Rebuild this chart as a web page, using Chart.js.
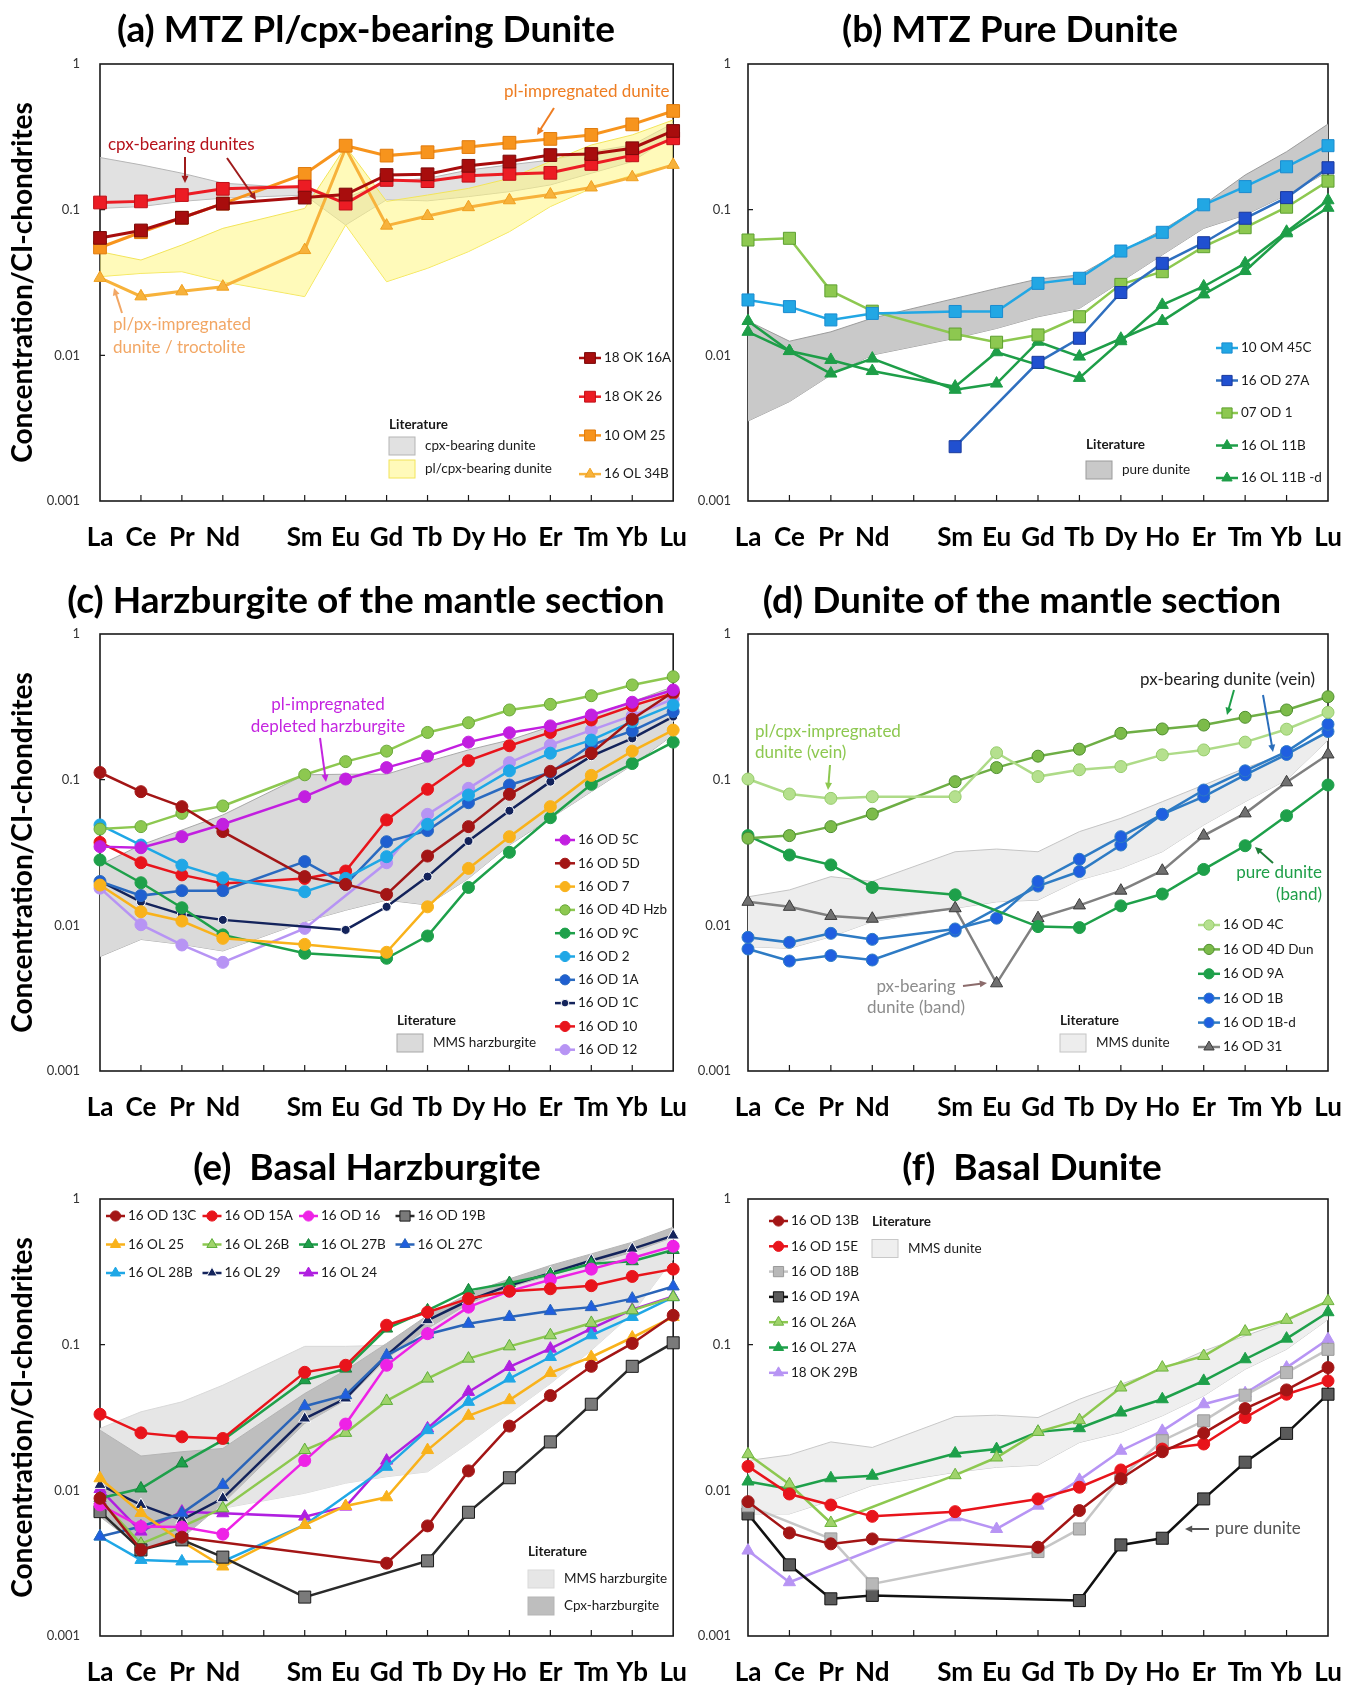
<!DOCTYPE html>
<html>
<head>
<meta charset="utf-8">
<script src="https://cdn.jsdelivr.net/npm/chart.js@4.4.1/dist/chart.umd.min.js"></script>
<style>
  html, body { margin: 0; padding: 0; background: #fff; }
  #page { position: relative; width: 1359px; height: 1688px; overflow: hidden; }
  canvas { position: absolute; }
  .ptitle { position: absolute; transform: translate(-50%, -50%); font: bold 37px Lato, sans-serif; white-space: pre; color: #000; }
</style>
</head>
<body>
<div id="page">
  <canvas id="pa" width="700" height="553" style="left:0;top:0"></canvas>
  <canvas id="pb" width="669" height="553" style="left:690px;top:0"></canvas>
  <canvas id="pc" width="700" height="553" style="left:0;top:570px"></canvas>
  <canvas id="pd" width="669" height="553" style="left:690px;top:570px"></canvas>
  <canvas id="pe" width="700" height="553" style="left:0;top:1135px"></canvas>
  <canvas id="pf" width="669" height="553" style="left:690px;top:1135px"></canvas>

  <div class="ptitle" style="left:366px;top:27px">(a) MTZ Pl/cpx-bearing Dunite</div>
  <div class="ptitle" style="left:1010px;top:27px">(b) MTZ Pure Dunite</div>
  <div class="ptitle" style="left:366px;top:598px">(c) Harzburgite of the mantle section</div>
  <div class="ptitle" style="left:1022px;top:598px">(d) Dunite of the mantle section</div>
  <div class="ptitle" style="left:367px;top:1165px">(e)  Basal Harzburgite</div>
  <div class="ptitle" style="left:1032px;top:1165px">(f)  Basal Dunite</div>
</div>

<script>
// REE order, Pm left blank (no data)
const ree = ['La', 'Ce', 'Pr', 'Nd', '', 'Sm', 'Eu', 'Gd', 'Tb', 'Dy', 'Ho', 'Er', 'Tm', 'Yb', 'Lu'];
const yTicks = [0.001, 0.01, 0.1, 1];
const yTitle = 'Concentration/CI-chondrites';

// (a) MTZ Pl/cpx-bearing dunite
const a_ok16a = [0.064, 0.072, 0.088, 0.110, null, 0.121, 0.127, 0.173, 0.175, 0.200, 0.214, 0.237, 0.241, 0.264, 0.347];
const a_ok26  = [0.112, 0.114, 0.126, 0.139, null, 0.144, 0.110, 0.160, 0.157, 0.171, 0.176, 0.179, 0.206, 0.236, 0.309];
const a_om25  = [0.055, 0.070, 0.088, 0.110, null, 0.176, 0.275, 0.235, 0.248, 0.269, 0.288, 0.306, 0.326, 0.385, 0.476];
const a_ol34b = [0.034, 0.0254, 0.0275, 0.0296, null, 0.0528, 0.264, 0.0777, 0.0905, 0.104, 0.116, 0.127, 0.142, 0.167, 0.203];
const a_cpxHi = [0.228, 0.203, 0.178, 0.152, null, 0.140, 0.120, 0.156, 0.164, 0.187, 0.203, 0.219, 0.250, 0.278, 0.392];
const a_cpxLo = [0.102, 0.105, 0.114, 0.120, null, 0.126, 0.0785, 0.117, 0.115, 0.123, 0.133, 0.148, 0.178, 0.214, 0.326];
const a_plHi  = [0.0515, 0.0451, 0.0572, 0.0744, null, 0.102, 0.271, 0.114, 0.126, 0.140, 0.164, 0.214, 0.278, 0.326, 0.413];
const a_plLo  = [0.0347, 0.0365, 0.0375, 0.032, null, 0.0253, 0.0785, 0.032, 0.0396, 0.0515, 0.0706, 0.105, 0.140, 0.173, 0.203];

// (b) MTZ pure dunite
const b_om45c  = [0.024, 0.0216, 0.0175, 0.0194, null, 0.020, 0.020, 0.0312, 0.0338, 0.052, 0.0699, 0.108, 0.144, 0.197, 0.275];
const b_od27a  = [null, null, null, null, null, 0.00236, null, 0.00895, 0.0131, 0.027, 0.0428, 0.0593, 0.0873, 0.121, 0.194];
const b_od1    = [0.0619, 0.0636, 0.0277, 0.0201, null, 0.014, 0.0123, 0.0138, 0.0184, 0.0307, 0.0375, 0.0557, 0.0752, 0.104, 0.157];
const b_ol11b  = [0.0172, 0.0107, 0.0093, 0.0078, null, 0.0061, 0.0105, 0.0086, 0.0070, 0.0125, 0.0222, 0.0297, 0.0428, 0.0705, 0.116];
const b_ol11bd = [0.0145, 0.0107, 0.0075, 0.0095, null, 0.0058, 0.0064, 0.0124, 0.0098, 0.0130, 0.0172, 0.0262, 0.0379, 0.0688, 0.103];
const b_pureHi = [0.0172, 0.0125, 0.0145, 0.0180, null, 0.0246, 0.0288, 0.0334, 0.0356, 0.0515, 0.0725, 0.108, 0.173, 0.250, 0.387];
const b_pureLo = [0.00354, 0.00481, 0.00733, 0.01005, null, 0.0131, 0.0153, 0.0184, 0.021, 0.032, 0.0489, 0.0744, 0.0919, 0.126, 0.182];

// (c) harzburgite of the mantle section
const c_od5c  = [0.0347, 0.0341, 0.0406, 0.0494, null, 0.0764, 0.101, 0.121, 0.145, 0.181, 0.210, 0.234, 0.278, 0.340, 0.413];
const c_od5d  = [0.112, 0.0827, 0.0653, 0.044, null, 0.0216, 0.0191, 0.0163, 0.0299, 0.0476, 0.0793, 0.114, 0.152, 0.260, 0.400];
const c_od7   = [0.0189, 0.0124, 0.0107, 0.00814, null, 0.0074, null, 0.00653, 0.0134, 0.0246, 0.0406, 0.0653, 0.107, 0.157, 0.219];
const c_od4d  = [0.0458, 0.0476, 0.0587, 0.066, null, 0.108, 0.133, 0.157, 0.211, 0.246, 0.301, 0.329, 0.377, 0.447, 0.509];
const c_od9c  = [0.0281, 0.0196, 0.0132, 0.0086, null, 0.00643, null, 0.00594, 0.00845, 0.0182, 0.0317, 0.0548, 0.0929, 0.129, 0.181];
const c_od2   = [0.0489, 0.0356, 0.0259, 0.0212, null, 0.0170, 0.021, 0.0296, 0.0494, 0.0785, 0.115, 0.152, 0.187, 0.250, 0.326];
const c_od1a  = [0.020, 0.016, 0.0173, 0.0173, null, 0.0274, 0.0191, 0.0375, 0.0447, 0.0695, 0.0919, 0.112, 0.173, 0.216, 0.293];
const c_od1c  = [0.0201, 0.0145, 0.0119, 0.0109, null, null, 0.0093, 0.0134, 0.0216, 0.0379, 0.0612, 0.0969, 0.145, 0.192, 0.271];
const c_od10  = [0.0371, 0.0269, 0.0222, 0.0194, null, 0.021, 0.0236, 0.0529, 0.0859, 0.135, 0.171, 0.211, 0.257, 0.321, 0.392];
const c_od12  = [0.018, 0.0101, 0.00733, 0.00557, null, 0.00953, null, 0.0269, 0.0578, 0.0872, 0.131, 0.173, 0.219, 0.275, 0.358];
const c_mmsHi = [0.026, 0.0356, 0.0451, 0.0572, null, 0.108, 0.109, 0.109, 0.133, 0.160, 0.187, 0.231, 0.278, 0.343, 0.435];
const c_mmsLo = [0.0061, 0.0080, 0.0074, 0.00667, null, 0.0106, 0.0127, 0.0149, 0.0138, 0.021, 0.0356, 0.0543, 0.0827, 0.126, 0.203];

// (d) dunite of the mantle section
const d_od4c  = [0.101, 0.0797, 0.0744, 0.0764, null, 0.0764, 0.153, 0.105, 0.117, 0.123, 0.148, 0.160, 0.181, 0.222, 0.290];
const d_od4d  = [0.0396, 0.0413, 0.0476, 0.0581, null, 0.0969, 0.121, 0.145, 0.162, 0.208, 0.223, 0.237, 0.268, 0.301, 0.371];
const d_od9a  = [0.0413, 0.0304, 0.026, 0.0182, null, 0.0162, null, 0.0098, 0.00965, 0.0136, 0.0164, 0.0242, 0.0352, 0.0566, 0.0919];
const d_od1b  = [0.00827, 0.00764, 0.00881, 0.00801, null, 0.00944, 0.0112, 0.020, 0.0284, 0.0406, 0.0578, 0.0849, 0.115, 0.156, 0.240];
const d_od1bd = [0.00688, 0.00569, 0.0062, 0.00578, null, 0.00914, null, 0.0186, 0.0234, 0.0356, 0.0578, 0.0764, 0.108, 0.149, 0.214];
const d_od31  = [0.0145, 0.0134, 0.0116, 0.0111, null, 0.0131, 0.0040, 0.0112, 0.0137, 0.0173, 0.0237, 0.0413, 0.0587, 0.0959, 0.149];
const d_mmsHi = [0.0157, 0.0175, 0.0216, 0.020, null, 0.032, 0.0334, 0.032, 0.044, 0.0543, 0.0706, 0.0919, 0.120, 0.152, 0.208];
const d_mmsLo = [0.00714, 0.00695, 0.00836, 0.0106, null, 0.0131, 0.0145, 0.0149, 0.0205, 0.0246, 0.032, 0.0489, 0.0706, 0.0995, 0.187];

// (e) basal harzburgite
const e_od13c = [0.00882, 0.0039, 0.00477, null, null, null, null, 0.00316, 0.0057, 0.0136, 0.0276, 0.0447, 0.071, 0.102, 0.159];
const e_od15a = [0.0333, 0.0248, 0.0233, 0.0227, null, 0.0646, 0.0722, 0.136, 0.167, 0.207, 0.233, 0.242, 0.254, 0.294, 0.330];
const e_od16  = [0.00794, 0.00564, 0.0056, 0.0050, null, 0.016, 0.0285, 0.0722, 0.119, 0.181, 0.233, 0.279, 0.330, 0.394, 0.474];
const e_od19b = [0.00714, 0.0039, 0.00457, 0.00348, null, 0.00185, null, null, 0.00328, 0.00707, 0.0122, 0.0215, 0.039, 0.071, 0.103];
const e_ol25  = [0.0121, 0.0070, 0.00445, 0.0030, null, 0.00579, 0.00781, 0.00896, 0.0189, 0.0325, 0.0416, 0.064, 0.0823, 0.112, 0.155];
const e_ol26b = [0.00859, 0.00429, 0.00564, 0.00753, null, 0.0189, 0.0248, 0.0411, 0.0585, 0.0802, 0.0974, 0.116, 0.141, 0.172, 0.212];
const e_ol27b = [0.00882, 0.0103, 0.0153, 0.0221, null, 0.057, 0.0685, 0.129, 0.172, 0.236, 0.265, 0.303, 0.359, 0.374, 0.447];
const e_ol27c = [0.00482, 0.00564, 0.00696, 0.0109, null, 0.0378, 0.045, 0.0845, 0.118, 0.139, 0.155, 0.170, 0.181, 0.207, 0.251];
const e_ol28b = [0.00482, 0.00333, 0.00325, 0.00325, null, 0.00579, null, 0.0145, 0.0259, 0.0405, 0.0585, 0.0823, 0.116, 0.155, 0.212];
const e_ol29  = [0.0109, 0.00794, 0.00626, 0.00882, null, 0.0311, 0.0427, 0.0845, 0.147, 0.201, 0.255, 0.310, 0.378, 0.455, 0.561];
const e_ol24  = [0.0102, 0.00521, 0.00714, 0.00696, null, 0.0066, 0.00773, 0.016, 0.0266, 0.0474, 0.0703, 0.0939, 0.129, 0.174, 0.214];
const e_mmsHi = [0.0266, 0.0346, 0.0405, 0.0527, null, 0.0974, 0.0974, 0.099, 0.155, 0.207, 0.255, 0.306, 0.368, 0.467, 0.623];
const e_mmsLo = [0.0066, 0.00564, 0.00626, 0.00753, null, 0.00954, 0.0112, 0.0124, 0.0134, 0.021, 0.0337, 0.054, 0.0914, 0.163, 0.388];
const e_cpxHi = [0.0259, 0.0172, 0.0184, 0.0194, null, 0.0462, 0.0668, 0.102, 0.159, 0.224, 0.283, 0.350, 0.420, 0.505, 0.640];
const e_cpxLo = [0.0066, 0.00401, 0.00469, 0.00814, null, 0.0288, 0.0416, 0.0802, 0.129, 0.191, 0.248, 0.299, 0.359, 0.431, 0.546];

// (f) basal dunite
const f_od13b = [0.00836, 0.0051, 0.00429, 0.00464, null, null, null, 0.00407, 0.00726, 0.012, 0.0184, 0.0247, 0.0364, 0.0489, 0.0696];
const f_od15e = [0.0146, 0.00944, 0.00793, 0.00663, null, 0.00714, null, 0.00873, 0.0105, 0.0138, 0.0192, 0.0208, 0.0316, 0.0457, 0.0564];
const f_od18b = [0.00785, null, 0.00464, 0.00228, null, null, null, 0.0038, 0.00543, 0.0123, 0.0219, 0.030, 0.045, 0.0643, 0.0929];
const f_od19a = [0.00689, 0.00308, 0.0018, 0.0019, null, null, null, null, 0.00175, 0.00422, 0.00469, 0.00873, 0.0156, 0.0246, 0.0457];
const f_ol26a = [0.0177, 0.011, 0.00597, null, null, 0.0127, 0.0168, 0.0252, 0.0303, 0.0508, 0.0696, 0.0836, 0.123, 0.148, 0.199];
const f_ol27a = [0.0115, 0.0102, 0.0121, 0.0126, null, 0.0179, 0.0192, 0.0252, 0.0267, 0.0342, 0.0422, 0.0564, 0.0794, 0.110, 0.167];
const f_ok29b = [0.00386, 0.00234, null, null, null, 0.00653, 0.00543, 0.00785, 0.0118, 0.0187, 0.0256, 0.039, 0.0464, 0.0696, 0.109];
const f_mmsHi = [0.016, 0.0175, 0.0215, 0.0197, null, 0.0321, 0.0328, 0.0316, 0.0422, 0.0535, 0.0678, 0.0905, 0.115, 0.145, 0.199];
const f_mmsLo = [0.00689, 0.00689, 0.0085, 0.0108, null, 0.0133, 0.0144, 0.0149, 0.0213, 0.025, 0.0325, 0.0445, 0.0678, 0.0929, 0.149];

// sample line with markers
function sample(label, data, color, shape, more) {
  const r = shape === 'rect' ? 9 : shape === 'triangle' ? 7 : 6;
  return Object.assign({
    label, data,
    borderColor: color, borderWidth: 2.5,
    pointStyle: shape, pointRadius: r,
    pointBackgroundColor: color, pointBorderColor: color, pointBorderWidth: 1,
    spanGaps: true, fill: false, clip: false, tension: 0, order: 0
  }, more || {});
}

// literature field: upper edge filled down to the lower edge
function band(label, hi, lo, fillColor, edge, order) {
  const common = { borderColor: edge, borderWidth: 1, backgroundColor: fillColor, pointRadius: 0, spanGaps: true, clip: false, order };
  return [
    Object.assign({ label, data: hi, fill: '+1' }, common),
    Object.assign({ label: label + ' (low)', data: lo, fill: false }, common)
  ];
}

function arrow(ctx, x1, y1, x2, y2, color) {
  const ang = Math.atan2(y2 - y1, x2 - x1), h = 8;
  ctx.strokeStyle = color; ctx.fillStyle = color; ctx.lineWidth = 2;
  ctx.beginPath();
  ctx.moveTo(x1, y1);
  ctx.lineTo(x2 - Math.cos(ang) * h * 0.8, y2 - Math.sin(ang) * h * 0.8);
  ctx.stroke();
  ctx.beginPath();
  ctx.moveTo(x2, y2);
  ctx.lineTo(x2 - h * Math.cos(ang - 0.45), y2 - h * Math.sin(ang - 0.45));
  ctx.lineTo(x2 - h * Math.cos(ang + 0.45), y2 - h * Math.sin(ang + 0.45));
  ctx.closePath();
  ctx.fill();
}

// box around the plot and the small inner tick marks
const frame = {
  id: 'frame',
  beforeDatasetsDraw(chart) {
    const { ctx, chartArea: a, scales: { x, y } } = chart;
    ctx.save();
    ctx.strokeStyle = '#1a1a1a';
    ctx.lineWidth = 1.6;
    ctx.strokeRect(a.left, a.top, a.right - a.left, a.bottom - a.top);
    ctx.lineWidth = 1.2;
    ctx.beginPath();
    for (let i = 1; i < ree.length - 1; i++) {
      const px = x.getPixelForTick(i);
      ctx.moveTo(px, a.bottom);
      ctx.lineTo(px, a.bottom - 6);
    }
    [0.01, 0.1].forEach(v => {
      const py = y.getPixelForValue(v);
      ctx.moveTo(a.left, py);
      ctx.lineTo(a.left + 5, py);
    });
    ctx.stroke();
    ctx.restore();
  }
};

// in-plot legends, notes and arrows (offsets from the plot's top-left corner)
function decor(spec) {
  return {
    id: 'decor',
    afterDatasetsDraw(chart) {
      const { ctx, chartArea: a } = chart;
      const find = l => chart.data.datasets.find(d => d.label === l);
      ctx.save();
      ctx.textBaseline = 'middle';
      ctx.textAlign = 'left';

      const k = spec.keys;
      const len = k.len || 22;
      k.labels.forEach((lab, i) => {
        const ds = find(lab);
        const cols = k.cols || 1;
        const x0 = a.left + k.x + (i % cols) * (k.dx || 0);
        const y0 = a.top + k.y + Math.floor(i / cols) * k.dy;
        ctx.strokeStyle = ds.borderColor;
        ctx.lineWidth = 2.5;
        ctx.beginPath(); ctx.moveTo(x0, y0); ctx.lineTo(x0 + len, y0); ctx.stroke();
        ctx.fillStyle = ds.pointBackgroundColor;
        ctx.strokeStyle = ds.pointBorderColor;
        ctx.lineWidth = ds.pointBorderWidth;
        Chart.helpers.drawPoint(ctx, { pointStyle: ds.pointStyle, radius: ds.pointRadius * 0.85, rotation: 0, borderWidth: ds.pointBorderWidth }, x0 + len / 2, y0);
        ctx.fillStyle = '#1a1a1a';
        ctx.font = '13.5px Lato';
        ctx.fillText(lab, x0 + len + 3, y0);
      });

      const L = spec.lit;
      ctx.font = 'bold 13.5px Lato';
      ctx.fillStyle = '#1a1a1a';
      ctx.fillText('Literature', a.left + L.x, a.top + L.y);
      L.rows.forEach(r => {
        const ds = find(r.band);
        const bx = a.left + L.x, by = a.top + r.y;
        ctx.fillStyle = ds.backgroundColor;
        ctx.fillRect(bx, by - 9, 26, 18);
        ctx.strokeStyle = ds.borderColor;
        ctx.lineWidth = 1;
        ctx.strokeRect(bx, by - 9, 26, 18);
        ctx.fillStyle = '#1a1a1a';
        ctx.font = '13.5px Lato';
        ctx.fillText(r.band, bx + 36, by);
      });

      (spec.notes || []).forEach(n => {
        ctx.font = '17px Lato';
        ctx.fillStyle = n.color;
        ctx.textAlign = n.align || 'left';
        n.lines.forEach((t, i) => ctx.fillText(t, a.left + n.x, a.top + n.y + i * (n.lh || 22)));
      });
      (spec.arrows || []).forEach(r => arrow(ctx, a.left + r[0], a.top + r[1], a.left + r[2], a.top + r[3], r[4]));
      ctx.restore();
    }
  };
}

function makeChart(id, left, datasets, spec) {
  return new Chart(document.getElementById(id), {
    type: 'line',
    data: { labels: ree, datasets },
    options: {
      responsive: false,
      animation: false,
      events: [],
      layout: { padding: { left: 0, right: left ? 20 : 31, top: 64, bottom: 0 } },
      plugins: { legend: { display: false }, tooltip: { enabled: false } },
      scales: {
        x: {
          type: 'category',
          offset: false,
          grid: { display: false },
          border: { display: false },
          ticks: { autoSkip: false, maxRotation: 0, padding: 13, color: '#000', font: { family: 'Lato', size: 26, weight: 'bold' } },
          afterFit: s => { s.height = 52; }
        },
        y: {
          type: 'logarithmic',
          min: 0.001,
          max: 1,
          grid: { display: false },
          border: { display: false },
          afterBuildTicks: s => { s.ticks = yTicks.map(v => ({ value: v })); },
          ticks: { padding: left ? 12 : 9, color: '#333', font: { family: 'Lato', size: 13 }, callback: v => String(v) },
          title: { display: left, text: yTitle, color: '#000', padding: { top: 6, bottom: 2 }, font: { family: 'Lato', size: 28, weight: 'bold' } },
          afterFit: s => { s.width = left ? 100 : 58; }
        }
      }
    },
    plugins: [frame, decor(spec)]
  });
}

// (a)
makeChart('pa', true, [
  sample('18 OK 16A', a_ok16a, '#A80D0D', 'rect', { pointBorderColor: '#7A0A0A', borderWidth: 3 }),
  sample('18 OK 26', a_ok26, '#EC1C24', 'rect', { pointBorderColor: '#C01018', borderWidth: 3 }),
  sample('10 OM 25', a_om25, '#F7941D', 'rect', { pointBorderColor: '#E07B0C', borderWidth: 3 }),
  sample('16 OL 34B', a_ol34b, '#F7B23B', 'triangle', { pointBorderColor: '#EFA020', borderWidth: 3 }),
  ...band('pl/cpx-bearing dunite', a_plHi, a_plLo, 'rgba(255,246,130,0.55)', '#F2E45A', 5),
  ...band('cpx-bearing dunite', a_cpxHi, a_cpxLo, 'rgba(205,205,205,0.6)', '#B5B5B5', 6)
], {
  keys: { labels: ['18 OK 16A', '18 OK 26', '10 OM 25', '16 OL 34B'], x: 479, y: 294, dy: 38.7 },
  lit: { x: 289, y: 361, rows: [{ band: 'cpx-bearing dunite', y: 382 }, { band: 'pl/cpx-bearing dunite', y: 405 }] },
  notes: [
    { lines: ['cpx-bearing dunites'], x: 8, y: 81, color: '#B5121B' },
    { lines: ['pl-impregnated dunite'], x: 404, y: 28, color: '#EE7D22' },
    { lines: ['pl/px-impregnated', 'dunite / troctolite'], x: 13, y: 261, lh: 23, color: '#F2A765' }
  ],
  arrows: [[85, 93, 85, 119, '#9E1B1B'], [127, 94, 156, 136, '#9E1B1B'], [454, 44, 437, 71, '#EE7D22'], [22, 249, 14, 224, '#F2A765']]
});

// (b)
makeChart('pb', false, [
  sample('10 OM 45C', b_om45c, '#22A7E4', 'rect', { pointRadius: 8.5, pointBorderColor: '#1A8CD0' }),
  sample('16 OD 27A', b_od27a, '#2F6FBF', 'rect', { pointRadius: 8.5, pointBackgroundColor: '#2050D0', pointBorderColor: '#1A3A9C' }),
  sample('07 OD 1', b_od1, '#8DC850', 'rect', { pointRadius: 8.5, pointBorderColor: '#5EA030' }),
  sample('16 OL 11B', b_ol11b, '#1E9E48', 'triangle'),
  sample('16 OL 11B -d', b_ol11bd, '#1E9E48', 'triangle'),
  ...band('pure dunite', b_pureHi, b_pureLo, '#C9C9C9', '#9B9B9B', 5)
], {
  keys: { labels: ['10 OM 45C', '16 OD 27A', '07 OD 1', '16 OL 11B', '16 OL 11B -d'], x: 468, y: 284, dy: 32.5 },
  lit: { x: 338, y: 381, rows: [{ band: 'pure dunite', y: 406 }] }
});

// (c)
makeChart('pc', true, [
  sample('16 OD 5C', c_od5c, '#C21FE0', 'circle'),
  sample('16 OD 5D', c_od5d, '#A31515', 'circle'),
  sample('16 OD 7', c_od7, '#F9B21B', 'circle'),
  sample('16 OD 4D Hzb', c_od4d, '#8DC850', 'circle', { pointBorderColor: '#6AA83A' }),
  sample('16 OD 9C', c_od9c, '#1EA04A', 'circle'),
  sample('16 OD 2', c_od2, '#1FA7E6', 'circle'),
  sample('16 OD 1A', c_od1a, '#2A6AC0', 'circle', { pointBackgroundColor: '#1F5FD0' }),
  sample('16 OD 1C', c_od1c, '#13235B', 'circle', { pointRadius: 4.5, pointBorderColor: '#fff' }),
  sample('16 OD 10', c_od10, '#E8141B', 'circle'),
  sample('16 OD 12', c_od12, '#B794F4', 'circle'),
  ...band('MMS harzburgite', c_mmsHi, c_mmsLo, '#DADADA', '#A8A8A8', 5)
], {
  keys: { labels: ['16 OD 5C', '16 OD 5D', '16 OD 7', '16 OD 4D Hzb', '16 OD 9C', '16 OD 2', '16 OD 1A', '16 OD 1C', '16 OD 10', '16 OD 12'], x: 455, y: 206, dy: 23.3, len: 20 },
  lit: { x: 297, y: 387, rows: [{ band: 'MMS harzburgite', y: 409 }] },
  notes: [{ lines: ['pl-impregnated', 'depleted harzburgite'], x: 228, y: 71, lh: 22, align: 'center', color: '#C425E0' }],
  arrows: [[220, 104, 226, 148, '#C425E0']]
});

// (d)
makeChart('pd', false, [
  sample('16 OD 4C', d_od4c, '#AEDB88', 'circle', { pointBackgroundColor: '#B5E08E', pointBorderColor: '#95CC6A' }),
  sample('16 OD 4D Dun', d_od4d, '#6EAE45', 'circle', { pointBackgroundColor: '#7CBB4A', pointBorderColor: '#4E8E2E' }),
  sample('16 OD 9A', d_od9a, '#1EA04A', 'circle'),
  sample('16 OD 1B', d_od1b, '#2E7BC4', 'circle', { pointBackgroundColor: '#1F5FE0' }),
  sample('16 OD 1B-d', d_od1bd, '#2E7BC4', 'circle', { pointBackgroundColor: '#1F5FE0' }),
  sample('16 OD 31', d_od31, '#808080', 'triangle', { pointBackgroundColor: '#707070', pointBorderColor: '#3A3A3A' }),
  ...band('MMS dunite', d_mmsHi, d_mmsLo, '#EDEDED', '#C4C4C4', 5)
], {
  keys: { labels: ['16 OD 4C', '16 OD 4D Dun', '16 OD 9A', '16 OD 1B', '16 OD 1B-d', '16 OD 31'], x: 450, y: 291, dy: 24.4 },
  lit: { x: 312, y: 387, rows: [{ band: 'MMS dunite', y: 409 }] },
  notes: [
    { lines: ['px-bearing dunite (vein)'], x: 392, y: 46, color: '#222' },
    { lines: ['pl/cpx-impregnated', 'dunite (vein)'], x: 7, y: 98, lh: 21, color: '#8DC850' },
    { lines: ['pure dunite', '(band)'], x: 574, y: 239, lh: 22, align: 'right', color: '#1E9E48' },
    { lines: ['px-bearing', 'dunite (band)'], x: 168, y: 353, lh: 21, align: 'center', color: '#8C8C8C' }
  ],
  arrows: [[486, 56, 479, 81, '#1E9E48'], [515, 61, 525, 118, '#2A6EBB'], [82, 131, 80, 156, '#8DC850'], [525, 229, 507, 213, '#1E7E38'], [215, 352, 239, 349, '#8B6B6B']]
});

// (e)
makeChart('pe', true, [
  sample('16 OD 13C', e_od13c, '#A31515', 'circle'),
  sample('16 OD 15A', e_od15a, '#E8141B', 'circle'),
  sample('16 OD 16', e_od16, '#EE22E6', 'circle'),
  sample('16 OD 19B', e_od19b, '#2A2A2A', 'rect', { pointRadius: 8.5, pointBackgroundColor: '#7A7A7A', pointBorderColor: '#1A1A1A' }),
  sample('16 OL 25', e_ol25, '#F9B21B', 'triangle'),
  sample('16 OL 26B', e_ol26b, '#8DC850', 'triangle', { pointBackgroundColor: '#9FD36A', pointBorderColor: '#5EAE3A' }),
  sample('16 OL 27B', e_ol27b, '#1EA04A', 'triangle', { pointBorderColor: '#17803A' }),
  sample('16 OL 27C', e_ol27c, '#2A64B8', 'triangle', { pointBackgroundColor: '#1F5FE0' }),
  sample('16 OL 28B', e_ol28b, '#1FA7E6', 'triangle'),
  sample('16 OL 29', e_ol29, '#13235B', 'triangle', { pointBorderColor: '#fff' }),
  sample('16 OL 24', e_ol24, '#B020E0', 'triangle'),
  ...band('Cpx-harzburgite', e_cpxHi, e_cpxLo, '#BEBEBE', '#B5B5B5', 5),
  ...band('MMS harzburgite', e_mmsHi, e_mmsLo, '#E6E6E6', '#D9D9D9', 6)
], {
  keys: { labels: ['16 OD 13C', '16 OD 15A', '16 OD 16', '16 OD 19B', '16 OL 25', '16 OL 26B', '16 OL 27B', '16 OL 27C', '16 OL 28B', '16 OL 29', '16 OL 24'], x: 6, y: 17, dx: 96.5, dy: 28.5, cols: 4, len: 19 },
  lit: { x: 428, y: 353, rows: [{ band: 'MMS harzburgite', y: 380 }, { band: 'Cpx-harzburgite', y: 407 }] }
});

// (f)
makeChart('pf', false, [
  sample('16 OD 13B', f_od13b, '#A31515', 'circle'),
  sample('16 OD 15E', f_od15e, '#E8141B', 'circle'),
  sample('16 OD 18B', f_od18b, '#C6C6C6', 'rect', { pointRadius: 8.5, pointBackgroundColor: '#B8B8B8', pointBorderColor: '#9A9A9A' }),
  sample('16 OD 19A', f_od19a, '#111', 'rect', { pointRadius: 8.5, pointBackgroundColor: '#5A5A5A', pointBorderColor: '#111' }),
  sample('16 OL 26A', f_ol26a, '#8DC850', 'triangle', { pointBackgroundColor: '#9FD36A', pointBorderColor: '#6DB33F' }),
  sample('16 OL 27A', f_ol27a, '#1EA04A', 'triangle'),
  sample('18 OK 29B', f_ok29b, '#B794F4', 'triangle'),
  ...band('MMS dunite', f_mmsHi, f_mmsLo, '#EFEFEF', '#C8C8C8', 5)
], {
  keys: { labels: ['16 OD 13B', '16 OD 15E', '16 OD 18B', '16 OD 19A', '16 OL 26A', '16 OL 27A', '18 OK 29B'], x: 21, y: 22, dy: 25.3, len: 19 },
  lit: { x: 124, y: 23, rows: [{ band: 'MMS dunite', y: 49.5 }] },
  notes: [{ lines: ['pure dunite'], x: 467, y: 330, color: '#555' }],
  arrows: [[461, 330, 437, 330, '#555']]
});
</script>
</body>
</html>
